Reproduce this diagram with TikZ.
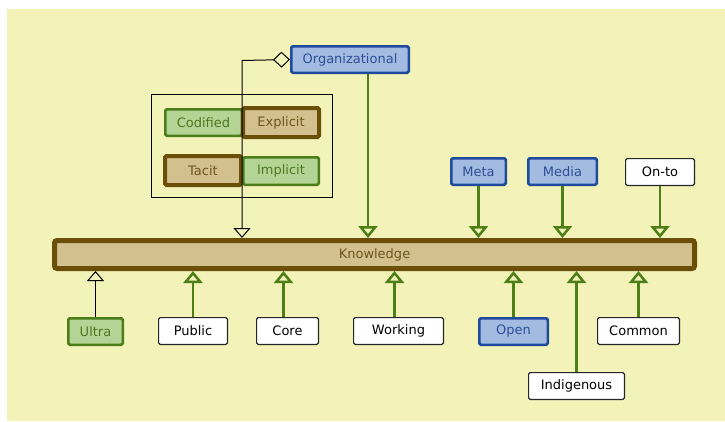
\documentclass[tikz,border=0pt]{standalone}
\usepackage{fontspec}
\setmainfont{DejaVu Sans}
\usetikzlibrary{arrows.meta}

\definecolor{canvas}{RGB}{242,242,185}
\definecolor{bluefill}{RGB}{163,187,225}
\definecolor{blueline}{RGB}{30,75,155}
\definecolor{bluetext}{RGB}{45,80,150}
\definecolor{greenfill}{RGB}{180,212,150}
\definecolor{greenline}{RGB}{75,125,25}
\definecolor{greentext}{RGB}{75,120,30}
\definecolor{brownfill}{RGB}{210,193,142}
\definecolor{brownline}{RGB}{107,78,8}
\definecolor{browntext}{RGB}{110,85,30}
\definecolor{arrowgreen}{RGB}{78,127,22}

\tikzset{
  box/.style={rectangle, inner sep=0pt, rounded corners=1.5pt,
    font=\fontsize{13}{15}\selectfont},
  bluebox/.style={box, fill=bluefill, draw=blueline, line width=2.5pt,
    text=bluetext},
  greenbox/.style={box, fill=greenfill, draw=greenline, line width=2.5pt,
    text=greentext},
  brownbox/.style={box, fill=brownfill, draw=brownline, line width=4pt,
    text=browntext},
  plainbox/.style={box, fill=white, draw=black!85, line width=1.2pt,
    text=black},
  greenlink/.style={draw=arrowgreen, line width=2.5pt,
    -{Triangle[open, length=12pt, width=19pt]}},
  blacklink/.style={draw=black, line width=1pt,
    -{Triangle[open, length=10pt, width=17pt]}},
}

\begin{document}
\begin{tikzpicture}[x=1pt, y=-1pt]
  \useasboundingbox (0,0) rectangle (725,421);
  \fill[canvas] (7,9) rectangle (725,421);

  % central concept
  \node[brownbox, line width=5pt, rounded corners=2.5pt,
    minimum width=640pt, minimum height=28pt]
    (know) at (374.5,254.5) {Knowledge};

  % upper group
  \node[bluebox, minimum width=117.5pt, minimum height=26.5pt]
    (org) at (350,59.5) {Organizational};
  \node[draw=black, line width=1.2pt, minimum width=180.8pt,
    minimum height=102.8pt, inner sep=0pt] (group) at (242,146) {};
  \node[greenbox, minimum width=76.5pt, minimum height=26.5pt]
    (cod) at (203.5,122.5) {Codified};
  \node[brownbox, minimum width=76pt, minimum height=29pt]
    (exp) at (281,122.5) {Explicit};
  \node[brownbox, minimum width=76pt, minimum height=29pt]
    (tac) at (203,170.5) {Tacit};
  \node[greenbox, minimum width=75.5pt, minimum height=27.5pt]
    (imp) at (281,171) {Implicit};

  \node[bluebox, minimum width=54.5pt, minimum height=26.5pt]
    (meta) at (478.5,171.5) {Meta};
  \node[bluebox, minimum width=68.5pt, minimum height=26.5pt]
    (media) at (562.5,171.5) {Media};
  \node[plainbox, minimum width=68.8pt, minimum height=26.8pt]
    (onto) at (660,172) {On-to};

  % lower row
  \node[greenbox, minimum width=54.5pt, minimum height=26.5pt]
    (ultra) at (95.5,331.5) {Ultra};
  \node[plainbox, minimum width=68.8pt, minimum height=26.8pt]
    (public) at (193,331) {Public};
  \node[plainbox, minimum width=61.8pt, minimum height=26.8pt]
    (core) at (287.5,331) {Core};
  \node[plainbox, minimum width=89.8pt, minimum height=26.8pt]
    (working) at (398.5,331) {Working};
  \node[bluebox, minimum width=68.5pt, minimum height=26.5pt]
    (open) at (513.5,331.5) {Open};
  \node[plainbox, minimum width=81.8pt, minimum height=26.8pt]
    (common) at (638.5,331) {Common};
  \node[plainbox, minimum width=95.8pt, minimum height=26.8pt]
    (indig) at (576.5,386) {Indigenous};

  % aggregation link from Organizational
  \coordinate (bend) at (242,60.5);
  \draw[black, line width=1pt,
    {Diamond[open, length=17pt, width=16pt]}-{Triangle[open, length=10pt, width=17pt]}]
    (org.west) -- (bend) -- (bend |- know.north);

  % links into Knowledge from above
  \draw[greenlink] ([xshift=18pt]org.south) -- ([xshift=18pt]org.south |- know.north);
  \draw[greenlink] (meta) -- (meta |- know.north);
  \draw[greenlink] (media) -- (media |- know.north);
  \draw[greenlink] (onto) -- (onto |- know.north);

  % links into Knowledge from below
  \draw[blacklink] (ultra) -- (ultra |- know.south);
  \draw[greenlink] (public) -- (public |- know.south);
  \draw[greenlink] ([xshift=-4pt]core.north) -- ([xshift=-4pt]core.north |- know.south);
  \draw[greenlink] ([xshift=-4pt]working.north) -- ([xshift=-4pt]working.north |- know.south);
  \draw[greenlink] (open) -- (open |- know.south);
  \draw[greenlink] (indig) -- (indig |- know.south);
  \draw[greenlink] (common) -- (common |- know.south);
\end{tikzpicture}
\end{document}
